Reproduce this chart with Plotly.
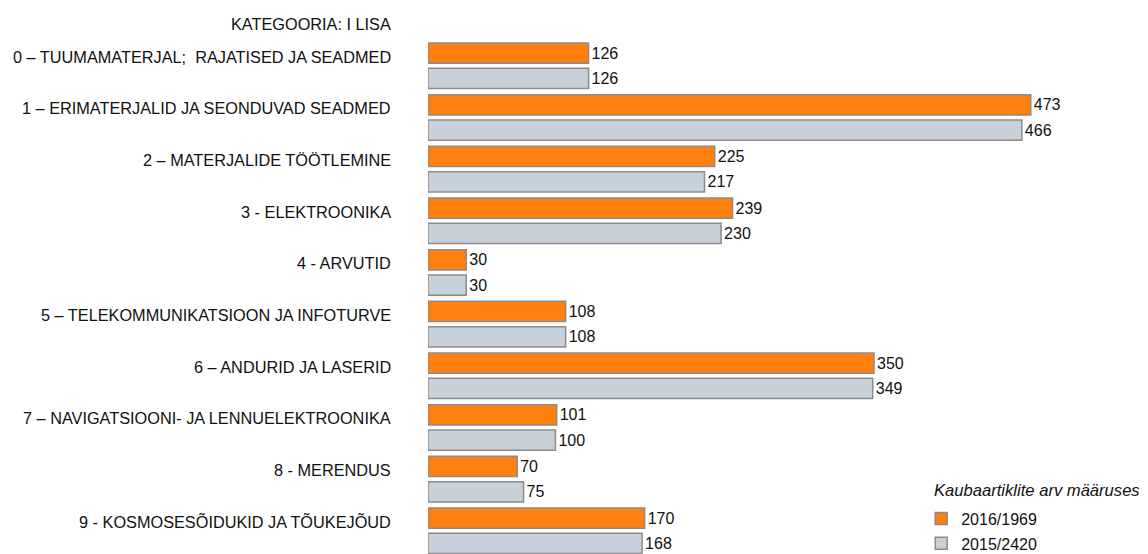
import plotly.graph_objects as go

categories = [
    "0 – TUUMAMATERJAL;  RAJATISED JA SEADMED",
    "1 – ERIMATERJALID JA SEONDUVAD SEADMED",
    "2 – MATERJALIDE TÖÖTLEMINE",
    "3 - ELEKTROONIKA",
    "4 - ARVUTID",
    "5 – TELEKOMMUNIKATSIOON JA INFOTURVE",
    "6 – ANDURID JA LASERID",
    "7 – NAVIGATSIOONI- JA LENNUELEKTROONIKA",
    "8 - MERENDUS",
    "9 - KOSMOSESÕIDUKID JA TÕUKEJÕUD",
]
values_2016 = [126, 473, 225, 239, 30, 108, 350, 101, 70, 170]
values_2015 = [126, 466, 217, 230, 30, 108, 349, 100, 75, 168]
series_names = ["2016/1969", "2015/2420"]

FONT = "Arial, Liberation Sans, sans-serif"
TXT = "#111111"

fig = go.Figure()
fig.add_trace(go.Bar(
    y=categories, x=values_2016, orientation="h", name=series_names[0],
    legendgroup="a",
    marker=dict(color="#FF7F0F", line=dict(color="#8c8c8c", width=1.5)),
    text=values_2016, textposition="outside", cliponaxis=False,
    textfont=dict(family=FONT, size=16, color=TXT),
))
fig.add_trace(go.Bar(
    y=categories, x=values_2015, orientation="h", name=series_names[1],
    legendgroup="b",
    marker=dict(color="#C8D0D9", line=dict(color="#8c8c8c", width=1.5)),
    text=values_2015, textposition="outside", cliponaxis=False,
    textfont=dict(family=FONT, size=16, color=TXT),
))

# category labels sit level with the orange bar
for c in categories:
    fig.add_annotation(x=-0.049, xref="paper", y=c, yref="y", yshift=9,
                       text=c, showarrow=False, xanchor="right",
                       font=dict(family=FONT, size=16.3, color=TXT))
fig.add_annotation(x=-0.049, xref="paper", y=1.031, yref="paper",
                   text="KATEGOORIA: I LISA", showarrow=False, xanchor="right",
                   yanchor="middle", font=dict(family=FONT, size=16.3, color=TXT))
# legend heading
fig.add_annotation(x=0.7, xref="paper", y=0.1245, yref="paper",
                   text="<i>Kaubaartiklite arv määruses</i>", showarrow=False,
                   xanchor="left", yanchor="middle",
                   font=dict(family=FONT, size=16.6, color=TXT))

# the page body adds 8px, so the figure is 8px smaller than the window
fig.update_layout(
    width=1140, height=546,
    margin=dict(l=420, r=0, t=32, b=0, autoexpand=False),
    plot_bgcolor="white", paper_bgcolor="white",
    barmode="group", bargap=0.02, bargroupgap=0.2,
    font=dict(family=FONT, size=16, color=TXT),
    xaxis=dict(range=[0, 565], visible=False),
    yaxis=dict(range=[9.45, -0.5], showticklabels=False, showgrid=False,
               zeroline=False, showline=False, ticks=""),
    legend=dict(
        x=0.685, y=0.102, xanchor="left", yanchor="top",
        font=dict(family=FONT, size=16, color=TXT),
        tracegroupgap=1,
        bgcolor="rgba(0,0,0,0)",
    ),
)

fig.write_html("out.html")
